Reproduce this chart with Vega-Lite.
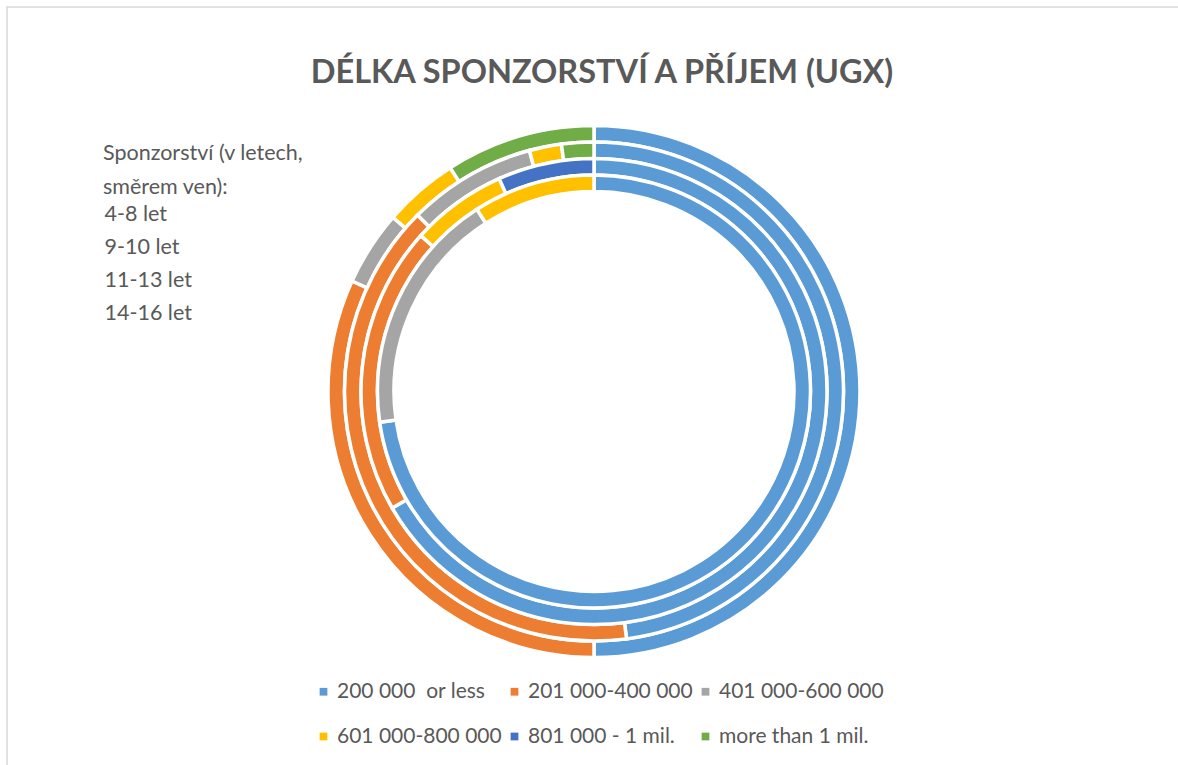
{
  "$schema": "https://vega.github.io/schema/vega-lite/v6.json",
  "width": 1174,
  "height": 769,
  "autosize": {"type": "none"},
  "padding": {"left": 7, "top": 7, "right": -3, "bottom": -11},
  "background": "white",
  "view": {"stroke": "#d9d9d9", "strokeWidth": 1.5},
  "config": {
    "font": "Lato"
  },
  "title": {
    "text": "DÉLKA SPONZORSTVÍ A PŘÍJEM (UGX)",
    "font": "Lato",
    "fontSize": 32.5,
    "fontWeight": "bold",
    "color": "#595959",
    "anchor": "middle",
    "frame": "group",
    "baseline": "alphabetic",
    "offset": -76,
    "dy": 32,
    "dx": 8
  },
  "data": {
    "values": [
      {"ring": "4-8 let", "income": "200 000\u00a0 or less", "idx": 1, "count": 8},
      {"ring": "4-8 let", "income": "401 000-600 000", "idx": 3, "count": 2},
      {"ring": "4-8 let", "income": "601 000-800 000", "idx": 4, "count": 1},
      {"ring": "9-10 let", "income": "200 000\u00a0 or less", "idx": 1, "count": 10},
      {"ring": "9-10 let", "income": "201 000-400 000", "idx": 2, "count": 3},
      {"ring": "9-10 let", "income": "601 000-800 000", "idx": 4, "count": 1},
      {"ring": "9-10 let", "income": "801 000 - 1 mil.", "idx": 5, "count": 1},
      {"ring": "11-13 let", "income": "200 000\u00a0 or less", "idx": 1, "count": 23},
      {"ring": "11-13 let", "income": "201 000-400 000", "idx": 2, "count": 19},
      {"ring": "11-13 let", "income": "401 000-600 000", "idx": 3, "count": 4},
      {"ring": "11-13 let", "income": "601 000-800 000", "idx": 4, "count": 1},
      {"ring": "11-13 let", "income": "more than 1 mil.", "idx": 6, "count": 1},
      {"ring": "14-16 let", "income": "200 000\u00a0 or less", "idx": 1, "count": 11},
      {"ring": "14-16 let", "income": "201 000-400 000", "idx": 2, "count": 7},
      {"ring": "14-16 let", "income": "401 000-600 000", "idx": 3, "count": 1},
      {"ring": "14-16 let", "income": "601 000-800 000", "idx": 4, "count": 1},
      {"ring": "14-16 let", "income": "more than 1 mil.", "idx": 6, "count": 2}
    ]
  },
  "encoding": {
    "theta": {"field": "count", "type": "quantitative", "stack": "normalize"},
    "order": {"field": "idx", "type": "quantitative", "sort": "ascending"},
    "color": {
      "field": "income",
      "type": "nominal",
      "scale": {
        "domain": ["200 000\u00a0 or less", "201 000-400 000", "401 000-600 000", "601 000-800 000", "801 000 - 1 mil.", "more than 1 mil."],
        "range": ["#5B9BD5", "#ED7D31", "#A5A5A5", "#FFC000", "#4472C4", "#70AD47"]
      },
      "legend": {
        "orient": "none",
        "legendX": 306,
        "legendY": 674,
        "columns": 3,
        "direction": "horizontal",
        "title": null,
        "padding": 0,
        "symbolType": "square",
        "symbolSize": 60,
        "symbolStrokeWidth": 0,
        "labelFont": "Lato",
        "labelFontSize": 21,
        "labelColor": "#595959",
        "labelOffset": 3,
        "labelLimit": 0,
        "columnPadding": 2,
        "rowPadding": 23
      }
    },
    "opacity": {
      "field": "ring",
      "type": "ordinal",
      "scale": {"domain": ["4-8 let", "9-10 let", "11-13 let", "14-16 let"], "range": [1, 1]},
      "legend": {
        "orient": "none",
        "legendX": 96,
        "legendY": 135.5,
        "direction": "vertical",
        "padding": 0,
        "title": ["Sponzorství (v letech,", "směrem ven):"],
        "titleFont": "Lato",
        "titleFontSize": 21.5,
        "titleFontWeight": "normal",
        "titleColor": "#595959",
        "titleLineHeight": 34,
        "titlePadding": 6.5,
        "titleLimit": 0,
        "labelFont": "Lato",
        "labelFontSize": 21.5,
        "labelColor": "#595959",
        "labelOffset": -20,
        "symbolSize": 0,
        "symbolOpacity": 0,
        "symbolStrokeWidth": 0,
        "rowPadding": 10
      }
    }
  },
  "layer": [
    {
      "transform": [{"filter": "datum.ring === '14-16 let'"}],
      "mark": {"type": "arc", "radius": 266, "radius2": 249.5, "stroke": "white", "strokeWidth": 3.5}
    },
    {
      "transform": [{"filter": "datum.ring === '11-13 let'"}],
      "mark": {"type": "arc", "radius": 249.5, "radius2": 233, "stroke": "white", "strokeWidth": 3.5}
    },
    {
      "transform": [{"filter": "datum.ring === '9-10 let'"}],
      "mark": {"type": "arc", "radius": 233, "radius2": 216.5, "stroke": "white", "strokeWidth": 3.5}
    },
    {
      "transform": [{"filter": "datum.ring === '4-8 let'"}],
      "mark": {"type": "arc", "radius": 216.5, "radius2": 200, "stroke": "white", "strokeWidth": 3.5}
    }
  ]
}
